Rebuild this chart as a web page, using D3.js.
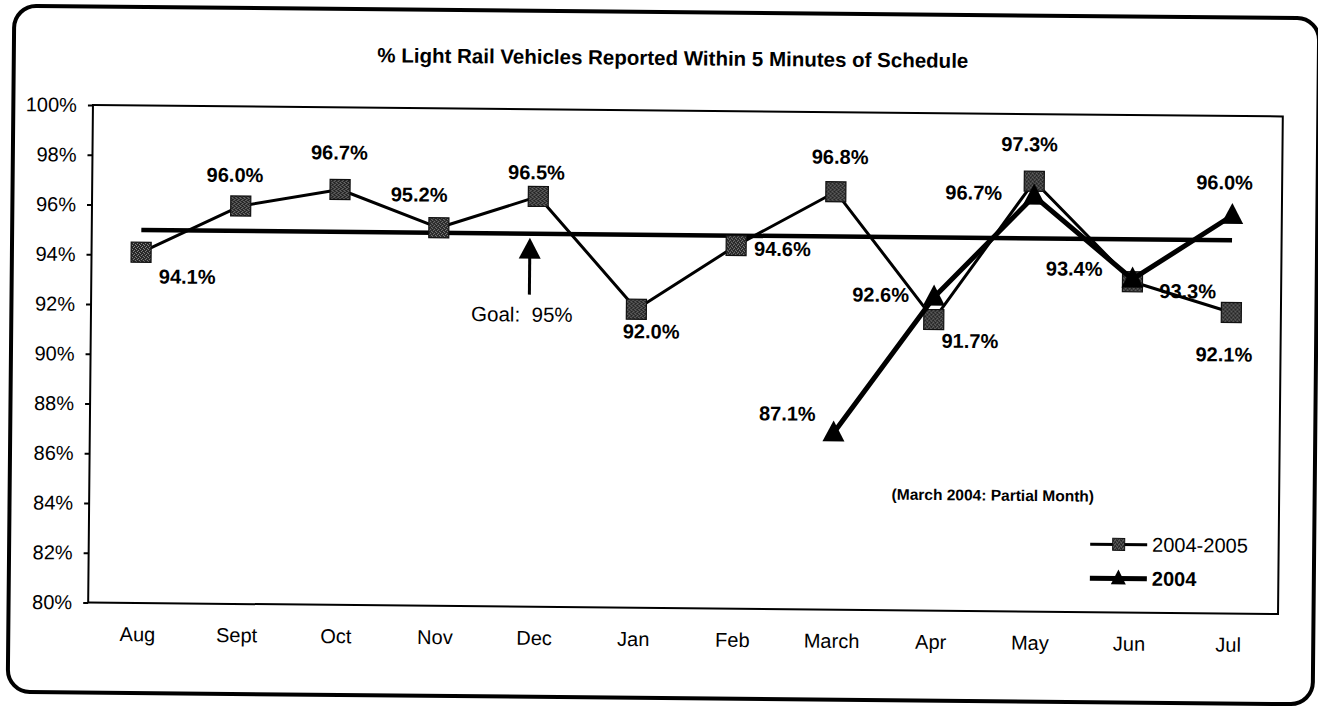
<!DOCTYPE html>
<html>
<head>
<meta charset="utf-8">
<script src="https://cdn.jsdelivr.net/npm/d3@7"></script>
<style>
  html, body { margin: 0; padding: 0; background: #fff; }
  svg { display: block; font-family: Arial, "Liberation Sans", sans-serif; }
</style>
</head>
<body>
<svg id="chart" width="1318" height="707"></svg>
<script>
// ---- Data -----------------------------------------------------------
const months = ["Aug", "Sept", "Oct", "Nov", "Dec", "Jan", "Feb", "March", "Apr", "May", "Jun", "Jul"];
const fiscal0405 = [94.1, 96.0, 96.7, 95.2, 96.5, 92.0, 94.6, 96.8, 91.7, 97.3, 93.3, 92.1];
const year2004 = [null, null, null, null, null, null, null, 87.1, 92.6, 96.7, 93.4, 96.0];
const goalValue = 95;
const yTicks = [80, 82, 84, 86, 88, 90, 92, 94, 96, 98, 100];
const seriesNames = ["2004-2005", "2004"];

// Label placement for each point: [dx, dy, anchor] from the marker centre
const fiscalLabelPlace = [
  [18, 24, "start"], [-6, -31, "middle"], [-1, -37, "middle"], [-20, -33, "middle"],
  [-2, -24, "middle"], [15, 22, "middle"], [18, 3, "start"], [4, -35, "middle"],
  [8, 21, "start"], [-5, -37, "middle"], [27, 9, "start"], [-7, 42, "middle"]
];
const yearLabelPlace = [
  null, null, null, null, null, null, null,
  [-18, -19, "end"], [-25, -2, "end"], [-32, -3, "end"], [-30, -10, "end"], [-8, -33, "middle"]
];

// ---- Layout ---------------------------------------------------------
const plot = { left: 90.6, right: 1280.5, top: 110.5, bottom: 608 };

const svg = d3.select("#chart");

// stippled fill used by the square markers
const defs = svg.append("defs");
const pat = defs.append("pattern")
  .attr("id", "stipple").attr("width", 4).attr("height", 4)
  .attr("patternUnits", "userSpaceOnUse");
pat.append("rect").attr("width", 4).attr("height", 4).attr("fill", "#262626");
[[0, 0], [2, 1], [1, 3], [3, 2]].forEach(([px, py]) =>
  pat.append("rect").attr("x", px).attr("y", py).attr("width", 1).attr("height", 1).attr("fill", "#8c8c8c"));

// whole page sits slightly skewed on the sheet
const page = svg.append("g").attr("transform", "rotate(0.55, 659, 353)");

// rounded outer frame
page.append("rect")
  .attr("x", 11).attr("y", 12).attr("width", 1305).attr("height", 686)
  .attr("rx", 22).attr("ry", 22)
  .attr("fill", "none").attr("stroke", "#000").attr("stroke-width", 4);

// title
page.append("text")
  .attr("x", 670).attr("y", 65)
  .attr("text-anchor", "middle")
  .attr("font-size", 20.5).attr("font-weight", "bold")
  .text("% Light Rail Vehicles Reported Within 5 Minutes of Schedule");

// scales
const x = d3.scaleBand().domain(months).range([plot.left, plot.right]).padding(0);
const cx = m => x(m) + x.bandwidth() / 2;
const y = d3.scaleLinear().domain([80, 100]).range([plot.bottom, plot.top]);

// plot area border
page.append("rect")
  .attr("x", plot.left).attr("y", plot.top)
  .attr("width", plot.right - plot.left).attr("height", plot.bottom - plot.top)
  .attr("fill", "none").attr("stroke", "#000").attr("stroke-width", 2);

// y axis
const yAxis = page.append("g")
  .attr("transform", `translate(${plot.left},0)`)
  .call(d3.axisLeft(y).tickValues(yTicks).tickFormat(d => d + "%").tickSize(5).tickPadding(11));
yAxis.select(".domain").remove();
yAxis.selectAll("line").attr("stroke", "#000").attr("stroke-width", 2);
yAxis.selectAll("text").attr("font-size", 20).attr("fill", "#000")
  .attr("font-family", "Arial, 'Liberation Sans', sans-serif");

// x axis
const xAxis = page.append("g")
  .attr("transform", `translate(0,${plot.bottom})`)
  .call(d3.axisBottom(x).tickSize(0).tickPadding(24));
xAxis.select(".domain").remove();
xAxis.selectAll("text").attr("font-size", 20).attr("fill", "#000")
  .attr("font-family", "Arial, 'Liberation Sans', sans-serif");

// goal line across the year
page.append("line")
  .attr("x1", cx(months[0])).attr("x2", cx(months[months.length - 1]))
  .attr("y1", y(goalValue)).attr("y2", y(goalValue))
  .attr("stroke", "#000").attr("stroke-width", 4.5);

// goal annotation arrow
const ax = cx("Dec") - 8;
const tipY = y(goalValue) + 4;
page.append("line")
  .attr("x1", ax).attr("x2", ax).attr("y1", tipY + 18).attr("y2", tipY + 57)
  .attr("stroke", "#000").attr("stroke-width", 3);
page.append("path")
  .attr("d", `M${ax},${tipY} L${ax - 11},${tipY + 21} L${ax + 11},${tipY + 21} Z`)
  .attr("fill", "#000");
page.append("text")
  .attr("x", ax - 58).attr("y", tipY + 84)
  .attr("font-size", 20.5)
  .attr("xml:space", "preserve")
  .style("white-space", "pre")
  .text("Goal:  " + goalValue + "%");

// series lines
const lineGen = d3.line()
  .defined(d => d.v != null)
  .x(d => cx(d.m)).y(d => y(d.v));

const fiscalPts = months.map((m, i) => ({ m, v: fiscal0405[i], i }));
const yearPts = months.map((m, i) => ({ m, v: year2004[i], i }));

page.append("path").datum(fiscalPts)
  .attr("d", lineGen).attr("fill", "none")
  .attr("stroke", "#000").attr("stroke-width", 3).attr("stroke-linejoin", "round");

// square markers
const sq = 20;
page.append("g").selectAll("rect").data(fiscalPts).join("rect")
  .attr("x", d => cx(d.m) - sq / 2).attr("y", d => y(d.v) - sq / 2)
  .attr("width", sq).attr("height", sq)
  .attr("fill", "url(#stipple)").attr("stroke", "#111").attr("stroke-width", 1.2);

// 2004 series line and triangles
const yearValid = yearPts.filter(d => d.v != null);
page.append("path").datum(yearValid)
  .attr("d", lineGen).attr("fill", "none")
  .attr("stroke", "#000").attr("stroke-width", 5).attr("stroke-linejoin", "round");

const tri = (px, py, w, h) => `M${px},${py - h * 0.6} L${px - w / 2},${py + h * 0.4} L${px + w / 2},${py + h * 0.4} Z`;
page.append("g").selectAll("path").data(yearValid).join("path")
  .attr("d", d => tri(cx(d.m), y(d.v), 22, 21))
  .attr("fill", "#000");

// value labels
const fmt = v => v.toFixed(1) + "%";
page.append("g").selectAll("text").data(fiscalPts).join("text")
  .attr("x", d => cx(d.m) + fiscalLabelPlace[d.i][0])
  .attr("y", d => y(d.v) + fiscalLabelPlace[d.i][1])
  .attr("dy", "0.35em")
  .attr("text-anchor", d => fiscalLabelPlace[d.i][2])
  .attr("font-size", 20).attr("font-weight", "bold")
  .text(d => fmt(d.v));

page.append("g").selectAll("text").data(yearValid).join("text")
  .attr("x", d => cx(d.m) + yearLabelPlace[d.i][0])
  .attr("y", d => y(d.v) + yearLabelPlace[d.i][1])
  .attr("dy", "0.35em")
  .attr("text-anchor", d => yearLabelPlace[d.i][2])
  .attr("font-size", 20).attr("font-weight", "bold")
  .text(d => fmt(d.v));

// footnote
page.append("text")
  .attr("x", 893).attr("y", 492).attr("dy", "0.35em")
  .attr("font-size", 15.5).attr("font-weight", "bold")
  .text("(March 2004: Partial Month)");

// legend
const legX0 = 1092, legX1 = 1149, legText = 1154;
const leg1 = page.append("g").attr("transform", "translate(0,540)");
leg1.append("line").attr("x1", legX0).attr("x2", legX1).attr("stroke", "#000").attr("stroke-width", 3);
leg1.append("rect").attr("x", (legX0 + legX1) / 2 - 6).attr("y", -6).attr("width", 12).attr("height", 12)
  .attr("fill", "url(#stipple)").attr("stroke", "#111").attr("stroke-width", 1);
leg1.append("text").attr("x", legText).attr("dy", "0.35em").attr("font-size", 20).text(seriesNames[0]);

const leg2 = page.append("g").attr("transform", "translate(0,574)");
leg2.append("line").attr("x1", legX0).attr("x2", legX1).attr("stroke", "#000").attr("stroke-width", 5);
leg2.append("path").attr("d", tri((legX0 + legX1) / 2, 0, 15, 15)).attr("fill", "#000");
leg2.append("text").attr("x", legText).attr("dy", "0.35em").attr("font-size", 20).attr("font-weight", "bold").text(seriesNames[1]);
</script>
</body>
</html>
